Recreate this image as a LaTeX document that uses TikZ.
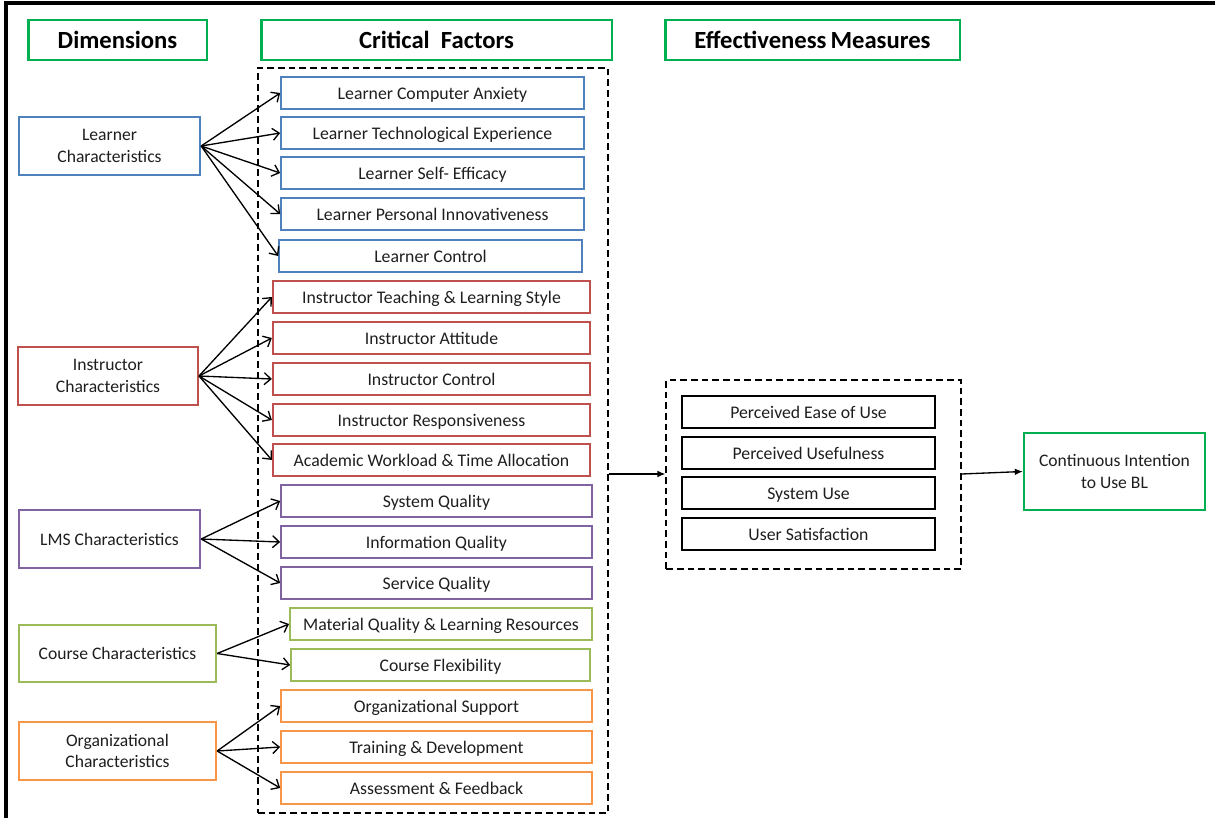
\documentclass[tikz,border=0pt]{standalone}
\usepackage{fontspec}
\setmainfont{Carlito}
\usetikzlibrary{arrows.meta, positioning}
\definecolor{hdrgreen}{RGB}{0, 176, 80}
\definecolor{lrnblue}{RGB}{79, 129, 189}
\definecolor{insred}{RGB}{192, 80, 77}
\definecolor{lmspurple}{RGB}{128, 100, 162}
\definecolor{crsgreen}{RGB}{155, 187, 89}
\definecolor{orgorange}{RGB}{247, 150, 70}
\definecolor{txtgray}{RGB}{30, 30, 30}

\tikzset{
    header/.style={draw=hdrgreen, line width=2pt, minimum height=30pt,
                   font=\fontsize{18.5}{20}\selectfont\bfseries},
    factor/.style={draw=#1, line width=1.5pt, minimum height=24pt, text=txtgray,
                   text height=9.5pt, text depth=0.5pt,
                   font=\fontsize{13.3}{15}\selectfont},
    dimbox/.style={draw=#1, line width=1.5pt, minimum height=43pt, align=center,
                   text=txtgray, font=\fontsize{13.2}{16}\selectfont},
    groupbox/.style={draw, line width=1.1pt, dash pattern=on 5pt off 3pt},
    fan/.style={-{Straight Barb[length=5pt,width=9pt]}, line width=1pt},
    flow/.style={-{Latex[length=6pt,width=5pt]}, line width=1pt},
}

\begin{document}
\begin{tikzpicture}[x=0.75pt, y=-0.75pt]
    \useasboundingbox (0,0) rectangle (1215,818);
    % frame
    \draw[line width=3pt] (1215,3) -- (6,3) -- (6,818);

    % headers
    \node[header, minimum width=134pt] (hdim) at (117.5,40) {Dimensions};
    \node[header, minimum width=263pt] (hcf) at (436.5,40) {Critical\ \ Factors};
    \node[header, minimum width=221pt] (hem) at (812.5,40) {Effectiveness\,Measures};

    % critical factors
    \node[groupbox, minimum width=262.5pt, minimum height=559pt] (cfbox) at (433,440.5) {};
    \foreach \n/\y/\t in {lca/93/Learner Computer Anxiety, lte/133/Learner Technological Experience,
                          lse/173/Learner Self- Efficacy, lpi/214/Learner Personal Innovativeness}
        \node[factor=lrnblue, minimum width=227pt] (\n) at (432.5,\y) {\t};
    \node[factor=lrnblue, minimum width=227pt] (lc) at (430.5,256) {Learner Control};
    \foreach \n/\y/\t in {itl/297/Instructor Teaching \& Learning Style, ia/338/Instructor Attitude,
                          ic/379/Instructor Control, ir/420/Instructor Responsiveness,
                          awt/460/Academic Workload \& Time Allocation}
        \node[factor=insred, minimum width=238pt] (\n) at (431.5,\y) {\t};
    \foreach \n/\y/\t in {sq/501/System Quality, iq/542/Information Quality, svq/583/Service Quality}
        \node[factor=lmspurple, minimum width=233pt] (\n) at (436.5,\y) {\t};
    \node[factor=crsgreen, minimum width=226.5pt] (mql) at (441,624) {Material Quality \& Learning Resources};
    \node[factor=crsgreen, minimum width=224pt] (cfl) at (440.5,665) {Course Flexibility};
    \foreach \n/\y/\t in {os/706/Organizational Support, td/747/Training \& Development,
                          af/788/Assessment \& Feedback}
        \node[factor=orgorange, minimum width=233pt] (\n) at (436.5,\y) {\t};

    % dimensions
    \node[dimbox=lrnblue, minimum width=136pt] (learner) at (109.5,146) {Learner\\Characteristics};
    \node[dimbox=insred, minimum width=135pt] (instructor) at (108,376) {Instructor\\Characteristics};
    \node[dimbox=lmspurple, minimum width=136pt] (lms) at (109.5,539) {LMS Characteristics};
    \node[dimbox=crsgreen, minimum width=148pt] (course) at (117.5,653.5) {Course Characteristics};
    \node[dimbox=orgorange, minimum width=148pt] (org) at (117.5,751) {Organizational\\Characteristics};

    \foreach \n in {lca,lte,lse,lpi,lc}
        \draw[fan] (learner.east) -- (\n.west);
    \foreach \n in {itl,ia,ic,ir,awt}
        \draw[fan] (instructor.east) -- (\n.west);
    \foreach \n in {sq,iq,svq}
        \draw[fan] (lms.east) -- (\n.west);
    \foreach \n in {mql,cfl}
        \draw[fan] (course.east) -- (\n.west);
    \foreach \n in {os,td,af}
        \draw[fan] (org.east) -- (\n.west);

    % effectiveness measures
    \node[groupbox, minimum width=221pt, minimum height=141.5pt] (embox) at (813.5,474.5) {};
    \foreach \n/\y/\t in {peou/412/Perceived Ease of Use, pu/453/Perceived Usefulness,
                          su/493/System Use, us/534/User Satisfaction}
        \node[factor=black, minimum width=190pt] (\n) at (808.5,\y) {\t};

    \node[dimbox=hdrgreen, minimum width=136pt, minimum height=58pt] (ci) at (1114.5,471.5)
        {Continuous Intention\\to Use BL};

    \draw[flow] (cfbox.east |- 0,474) -- (embox.west |- 0,474);
    \draw[flow] (embox.east |- 0,474) -- (ci.west);
\end{tikzpicture}
\end{document}
